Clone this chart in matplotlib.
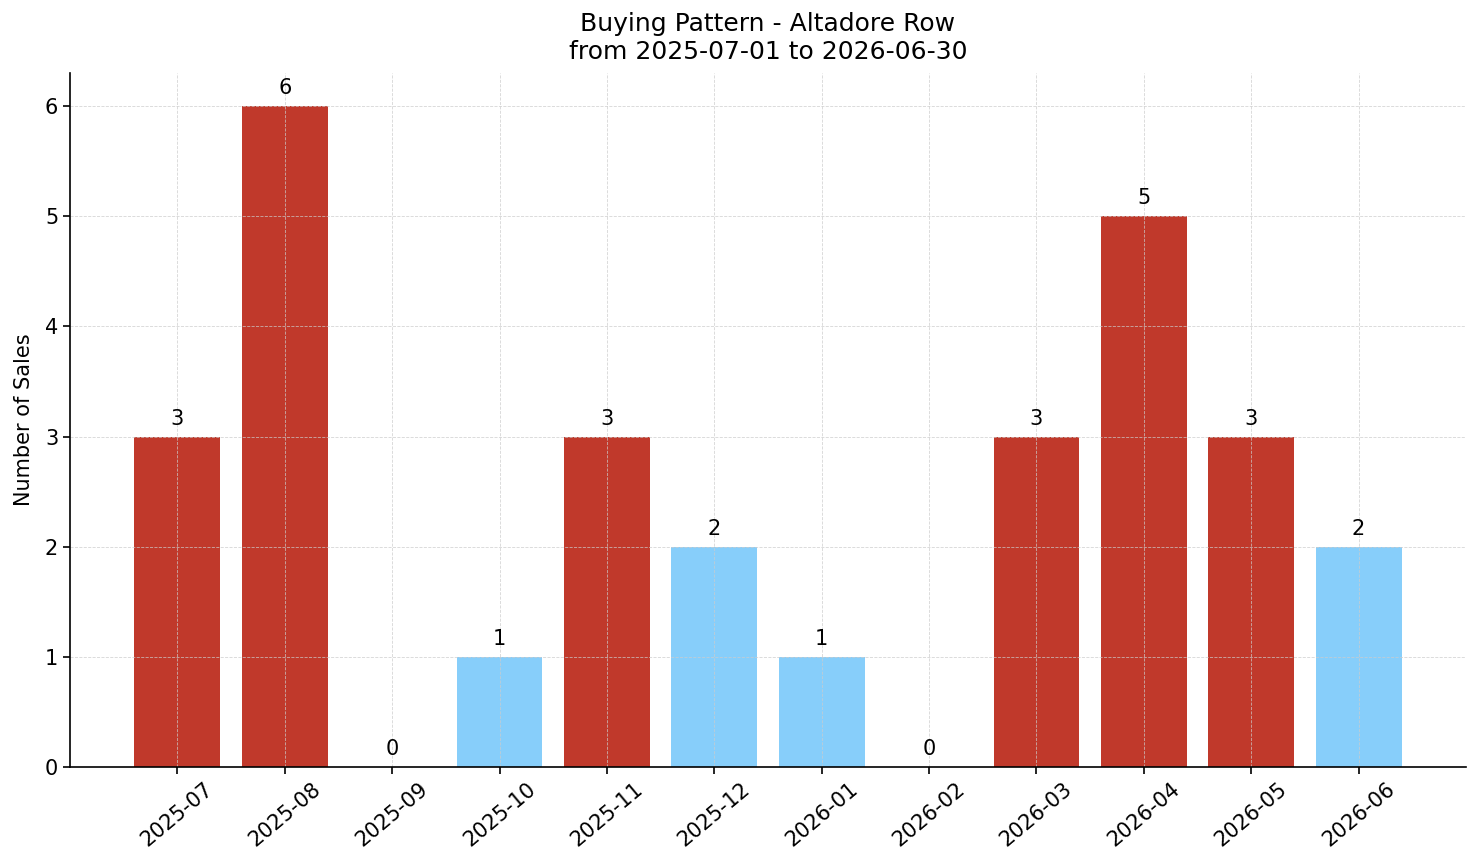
import matplotlib
matplotlib.use("Agg")
from matplotlib import pyplot as plt

months = ['2025-07', '2025-08', '2025-09', '2025-10', '2025-11', '2025-12',
          '2026-01', '2026-02', '2026-03', '2026-04', '2026-05', '2026-06']
sales = [3, 6, 0, 1, 3, 2, 1, 0, 3, 5, 3, 2]

colors = ['#c0392b' if s >= 3 else '#87cefa' for s in sales]
x = list(range(len(months)))

fig = plt.figure(figsize=(14.81, 8.63), dpi=100)
ax = fig.add_axes([70 / 1481, 1 - 767 / 863, (1466 - 70) / 1481, (767 - 73) / 863])

ax.bar(x, sales, width=0.8, color=colors)
for xi, s in zip(x, sales):
    ax.text(xi, s + 0.07, str(s), ha='center', va='bottom', fontsize=15)

ax.set_xlim(-1, 12)
ax.set_ylim(0, 6.3)
ax.set_xticks(x)
ax.set_xticklabels(months, rotation=40, fontsize=15)
ax.tick_params(axis='y', labelsize=15)
ax.tick_params(length=5, width=1.2)
ax.set_ylabel('Number of Sales', fontsize=15, labelpad=8)
ax.set_title('Buying Pattern - Altadore Row\nfrom 2025-07-01 to 2026-06-30', fontsize=18, pad=10)
ax.grid(True, linestyle='--', linewidth=0.6, color='#cccccc', alpha=0.8)
ax.spines['top'].set_visible(False)
ax.spines['right'].set_visible(False)
ax.spines['left'].set_linewidth(1.2)
ax.spines['bottom'].set_linewidth(1.2)

fig.savefig('out.png', dpi=100)
